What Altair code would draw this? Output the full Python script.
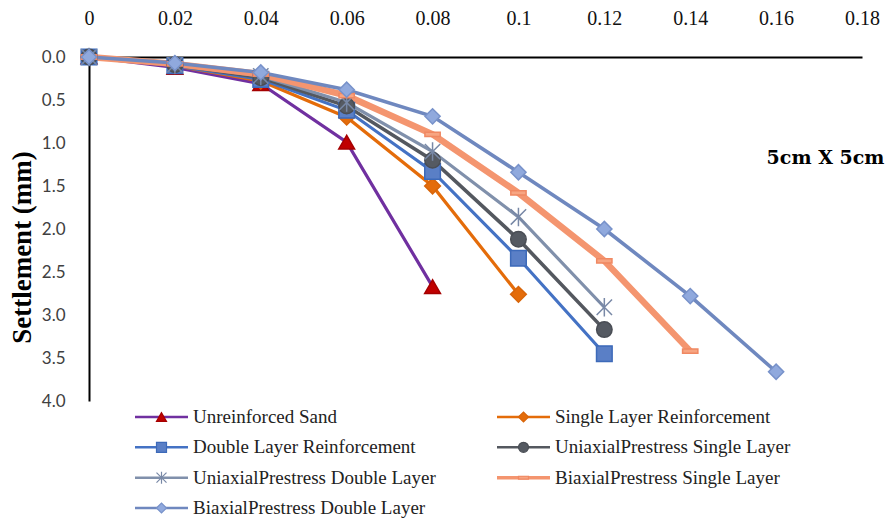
import altair as alt
import pandas as pd

# ---------------- data ----------------
loads = [0, 0.02, 0.04, 0.06, 0.08, 0.1, 0.12, 0.14, 0.16]
x_ticks = [0, 0.02, 0.04, 0.06, 0.08, 0.1, 0.12, 0.14, 0.16, 0.18]
y_ticks = [0, 0.5, 1.0, 1.5, 2.0, 2.5, 3.0, 3.5, 4.0]

series_names = [
    "Unreinforced Sand",
    "Single Layer Reinforcement",
    "Double Layer Reinforcement",
    "UniaxialPrestress Single Layer",
    "UniaxialPrestress Double Layer",
    "BiaxialPrestress Single Layer",
    "BiaxialPrestress Double Layer",
]
unreinforced = [0, 0.12, 0.31, 0.99, 2.67]
single_layer = [0, 0.10, 0.28, 0.70, 1.50, 2.76]
double_layer = [0, 0.10, 0.26, 0.62, 1.33, 2.34, 3.45]
uni_single = [0, 0.09, 0.24, 0.57, 1.20, 2.12, 3.17]
uni_double = [0, 0.09, 0.22, 0.53, 1.10, 1.86, 2.91]
biax_single = [0, 0.08, 0.20, 0.45, 0.90, 1.58, 2.37, 3.42]
biax_double = [0, 0.07, 0.18, 0.38, 0.69, 1.34, 2.00, 2.78, 3.66]
all_series = [unreinforced, single_layer, double_layer, uni_single,
              uni_double, biax_single, biax_double]

legend_col = [0, 1, 0, 1, 0, 1, 0]
legend_row = [0, 0, 1, 1, 2, 2, 3]

annotation_text = ["5cm X 5cm"]
annotation_x = [0.1715]
annotation_y = [1.17]

# ---------------- styles ----------------
line_colors = ["#7030A0", "#E46C0A", "#4472C4", "#54585F", "#8090AB", "#F4956F", "#6F88BF"]
fill_colors = ["#C00000", "#E46C0A", "#5A7FC6", "#555A62", "#7F8FA9", "#F7A582", "#90A9DD"]
stroke_colors = ["#A50000", "#D8650A", "#3D6AB9", "#4A4E55", "#7888A6", "#F08862", "#7892CA"]
shapes = ["triangle-up", "diamond", "square", "circle",
          "M-1,-1L1,1M1,-1L-1,1M0,-1.2L0,1.2", "M-1,-0.28H1V0.28H-1Z", "diamond"]
sizes = [250, 230, 220, 210, 420, 520, 230]
line_widths = [3.2, 3.2, 3.2, 3.6, 3.2, 6.5, 3.6]
legend_line_widths = [2.5, 2.5, 2.5, 2.5, 2.5, 3.5, 2.5]

rows = []
for name, vals in zip(series_names, all_series):
    for x, y in zip(loads, vals):
        rows.append({"series": name, "load": x, "settlement": y})
df = pd.DataFrame(rows)

legend_df = pd.DataFrame({"series": series_names, "col": legend_col, "row": legend_row})
annot_df = pd.DataFrame({"label": annotation_text, "x": annotation_x, "y": annotation_y})

color_scale = alt.Scale(domain=series_names, range=line_colors)
fill_scale = alt.Scale(domain=series_names, range=fill_colors)
stroke_scale = alt.Scale(domain=series_names, range=stroke_colors)
shape_scale = alt.Scale(domain=series_names, range=shapes)

x_enc = alt.X(
    "load:Q",
    scale=alt.Scale(domain=[0, 0.18], nice=False, zero=True),
    axis=alt.Axis(
        orient="top", values=x_ticks, format="~g", title=None,
        ticks=False, tickSize=0, grid=False, labelPadding=29,
        domainColor="#000000", domainWidth=2,
        labelFont="Liberation Serif", labelFontSize=20, labelColor="#111111",
        labelOverlap=False, labelFlush=False, labelBound=False,
    ),
)
y_enc = alt.Y(
    "settlement:Q",
    scale=alt.Scale(domain=[0, 4], reverse=True, nice=False),
    axis=alt.Axis(
        values=y_ticks, format=".1f", title="Settlement (mm)",
        ticks=False, tickSize=0, grid=False, labelPadding=24,
        domainColor="#000000", domainWidth=2,
        labelFont="Lato", labelFontSize=17, labelColor="#404040",
        titleFont="Liberation Serif", titleFontSize=27, titleFontWeight="bold",
        titleColor="#000000", titleX=-67, titleY=190, titleAngle=270,
        titleBaseline="middle", titleAlign="center",
        labelOverlap=False,
    ),
)

line_layers = []
for i, (name, w) in enumerate(zip(series_names, line_widths)):
    line_layers.append(
        alt.Chart(df).transform_filter(alt.datum.series == name)
        .mark_line(strokeWidth=w)
        .encode(
            x=x_enc if i == 0 else alt.X("load:Q"),
            y=y_enc if i == 0 else alt.Y("settlement:Q"),
            color=alt.Color("series:N", scale=color_scale, legend=None),
            order="load:Q",
        )
    )

points = alt.Chart(df).mark_point(filled=True, opacity=1, strokeWidth=1.5).encode(
    x="load:Q",
    y="settlement:Q",
    shape=alt.Shape("series:N", scale=shape_scale, legend=None),
    fill=alt.Fill("series:N", scale=fill_scale, legend=None),
    stroke=alt.Stroke("series:N", scale=stroke_scale, legend=None),
    size=alt.Size("series:N",
                  scale=alt.Scale(domain=series_names, range=sizes), legend=None),
)

annot = alt.Chart(annot_df).mark_text(
    font="DejaVu Serif", fontWeight="bold", fontSize=19, color="#000000"
).encode(x="x:Q", y="y:Q", text="label:N")

main = alt.layer(*line_layers, points, annot)

lx = alt.X("col:Q", scale=alt.Scale(domain=[0, 1], range=[46, 408]), axis=None)
ly = alt.Y("row:Q", scale=alt.Scale(domain=[0, 3], range=[360, 451]), axis=None)

leg_rules = []
for name, w in zip(series_names, legend_line_widths):
    leg_rules.append(
        alt.Chart(legend_df).transform_filter(alt.datum.series == name)
        .mark_rule(strokeWidth=w, x2Offset=53)
        .encode(
            x=lx, x2="col:Q", y=ly,
            color=alt.Color("series:N", scale=color_scale, legend=None),
        )
    )
leg_point = alt.Chart(legend_df).mark_point(
    filled=True, opacity=1, strokeWidth=1.2, size=100, xOffset=26.5
).encode(
    x=lx, y=ly,
    shape=alt.Shape("series:N", scale=shape_scale, legend=None),
    fill=alt.Fill("series:N", scale=fill_scale, legend=None),
    stroke=alt.Stroke("series:N", scale=stroke_scale, legend=None),
)
leg_text = alt.Chart(legend_df).mark_text(
    align="left", baseline="middle", dx=58,
    font="Liberation Serif", fontSize=19, color="#222222",
).encode(x=lx, y=ly, text="series:N")

legend = alt.layer(*leg_rules, leg_point, leg_text)

chart = alt.layer(main, legend).resolve_scale(
    x="independent", y="independent"
).properties(
    width=773, height=344,
    padding={"left": 81, "top": 49, "right": 26, "bottom": 117},
    autosize=alt.AutoSizeParams(type="none"),
    background="#ffffff",
).configure_view(stroke=None)

chart.save("out.html", embed_options={"renderer": "svg", "actions": False})
